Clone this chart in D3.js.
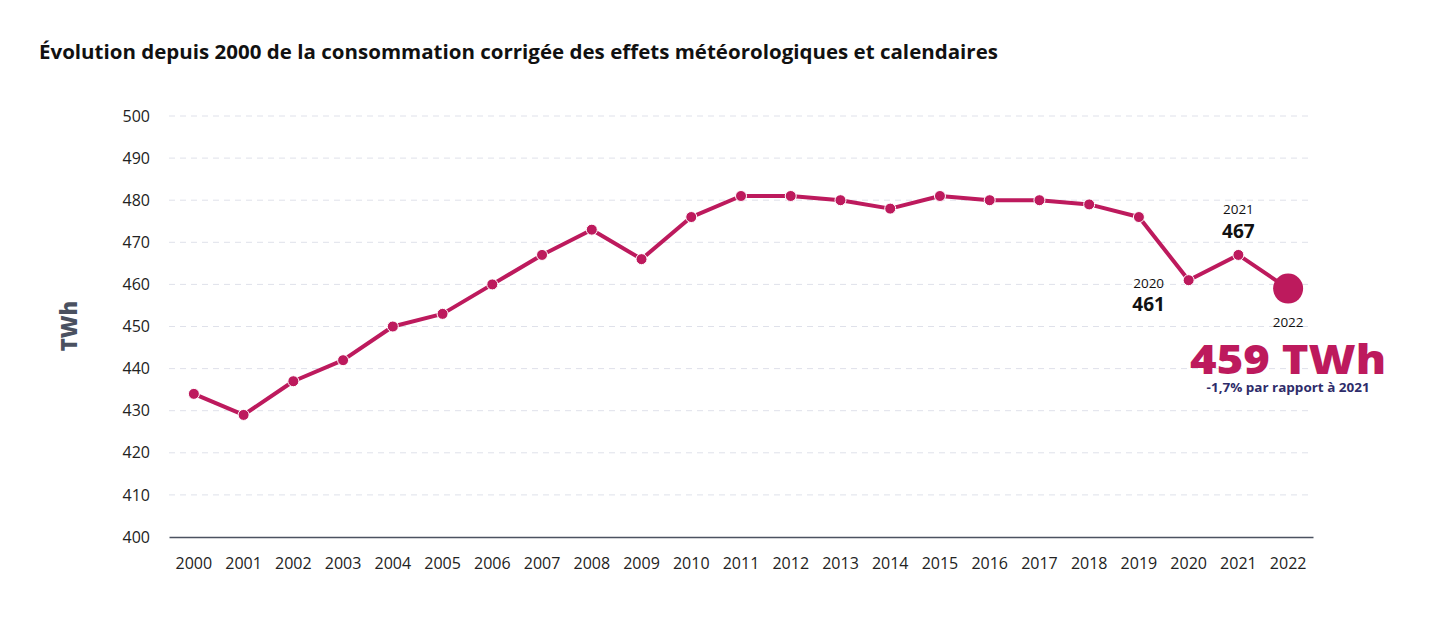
<!DOCTYPE html>
<html>
<head>
<meta charset="utf-8">
<style>
  body { margin: 0; background: #fff; }
  svg { font-family: "Open Sans", "Lato", sans-serif; }
</style>
</head>
<body>
<svg width="1440" height="617"></svg>
<script src="https://cdn.jsdelivr.net/npm/d3@7/dist/d3.min.js"></script>
<script>
// données
var years = ['2000','2001','2002','2003','2004','2005','2006','2007','2008','2009','2010',
  '2011','2012','2013','2014','2015','2016','2017','2018','2019','2020','2021','2022'];
var conso = [434, 429, 437, 442, 450, 453, 460, 467, 473, 466, 476,
  481, 481, 480, 478, 481, 480, 480, 479, 476, 461, 467, 459];
var yTicks = [400, 410, 420, 430, 440, 450, 460, 470, 480, 490, 500];
var annotYears = ['2020', '2021'];
var lastLabel = '459 TWh';
var lastNote = '-1,7% par rapport à 2021';

var svg = d3.select('svg');
var margin = { left: 169, right: 127, top: 116, bottom: 80 };
var width = +svg.attr('width') - margin.left - margin.right;
var height = +svg.attr('height') - margin.top - margin.bottom;
var color = '#bd1a5d';
var font = '"Open Sans", sans-serif';

var g = svg.append('g')
  .attr('transform', `translate(${margin.left}, ${margin.top})`);

var x = d3.scaleBand().domain(years).range([0, width]);
var y = d3.scaleLinear().domain([400, 500]).range([height, 0]);
var cx = function (d) { return x(d) + x.bandwidth() / 2; };

var data = years.map(function (yr, i) { return { year: yr, value: conso[i] }; });

// titre
svg.append('text')
  .attr('x', 39).attr('y', 59)
  .attr('font-size', 19).attr('font-weight', 700).attr('fill', '#111')
  .attr('textLength', 959).attr('lengthAdjust', 'spacingAndGlyphs')
  .text('Évolution depuis 2000 de la consommation corrigée des effets météorologiques et calendaires');

// grille
g.append('g').selectAll('line')
  .data(yTicks.slice(1))
  .enter().append('line')
  .attr('x1', 0).attr('x2', width)
  .attr('y1', function (d) { return y(d); })
  .attr('y2', function (d) { return y(d); })
  .attr('stroke', '#dfe1ea').attr('stroke-dasharray', '6,5');

// axe y
var yAxis = g.append('g').call(d3.axisLeft(y).tickValues(yTicks).tickSize(0).tickPadding(19));
yAxis.select('.domain').remove();
yAxis.selectAll('text').attr('font-size', 16).attr('fill', '#222').attr('font-family', font);

// axe x
var xAxis = g.append('g')
  .attr('transform', `translate(0, ${height})`)
  .call(d3.axisBottom(x).tickSize(0).tickPadding(21));
xAxis.select('.domain').attr('stroke', '#4b5260').attr('stroke-width', 1.5);
xAxis.selectAll('text').attr('font-size', 16).attr('fill', '#222').attr('font-family', font);

// libellé axe y
svg.append('text')
  .attr('transform', 'translate(77, 326) rotate(-90)')
  .attr('text-anchor', 'middle')
  .attr('font-size', 22).attr('font-weight', 800).attr('fill', '#4a5160')
  .text('TWh');

// courbe
var line = d3.line()
  .x(function (d) { return cx(d.year); })
  .y(function (d) { return y(d.value); });

g.append('path')
  .datum(data)
  .attr('fill', 'none')
  .attr('stroke', color)
  .attr('stroke-width', 4)
  .attr('stroke-linejoin', 'round')
  .attr('d', line);

g.selectAll('circle.pt')
  .data(data.slice(0, -1))
  .enter().append('circle')
  .attr('class', 'pt')
  .attr('cx', function (d) { return cx(d.year); })
  .attr('cy', function (d) { return y(d.value); })
  .attr('r', 5.5)
  .attr('fill', color)
  .attr('stroke', '#fff').attr('stroke-width', 1);

var last = data[data.length - 1];
g.append('circle')
  .attr('cx', cx(last.year))
  .attr('cy', y(last.value))
  .attr('r', 15)
  .attr('fill', color);

// annotations 2020 / 2021
var d2020 = data[years.indexOf(annotYears[0])];
var d2021 = data[years.indexOf(annotYears[1])];

g.append('text')
  .attr('x', cx(d2020.year) - 40).attr('y', y(d2020.value) + 8)
  .attr('text-anchor', 'middle').attr('font-size', 13.5).attr('fill', '#111')
  .text(d2020.year);
g.append('text')
  .attr('x', cx(d2020.year) - 40).attr('y', y(d2020.value) + 31)
  .attr('text-anchor', 'middle').attr('font-size', 19).attr('font-weight', 700).attr('fill', '#111')
  .text(d2020.value);

g.append('text')
  .attr('x', cx(d2021.year)).attr('y', y(d2021.value) - 41)
  .attr('text-anchor', 'middle').attr('font-size', 13.5).attr('fill', '#111')
  .text(d2021.year);
g.append('text')
  .attr('x', cx(d2021.year)).attr('y', y(d2021.value) - 17)
  .attr('text-anchor', 'middle').attr('font-size', 19).attr('font-weight', 700).attr('fill', '#111')
  .text(d2021.value);

// annotation 2022
g.append('text')
  .attr('x', cx(last.year)).attr('y', y(last.value) + 38)
  .attr('text-anchor', 'middle').attr('font-size', 13.5).attr('fill', '#111')
  .text(last.year);
g.append('text')
  .attr('x', cx(last.year)).attr('y', y(last.value) + 85)
  .attr('text-anchor', 'middle').attr('font-size', 40).attr('font-weight', 800).attr('fill', color)
  .attr('textLength', 196).attr('lengthAdjust', 'spacingAndGlyphs')
  .text(lastLabel);
g.append('text')
  .attr('x', cx(last.year)).attr('y', y(last.value) + 103)
  .attr('text-anchor', 'middle').attr('font-size', 12).attr('font-weight', 700).attr('fill', '#2e2c6a')
  .attr('textLength', 163).attr('lengthAdjust', 'spacingAndGlyphs')
  .text(lastNote);
</script>
</body>
</html>
